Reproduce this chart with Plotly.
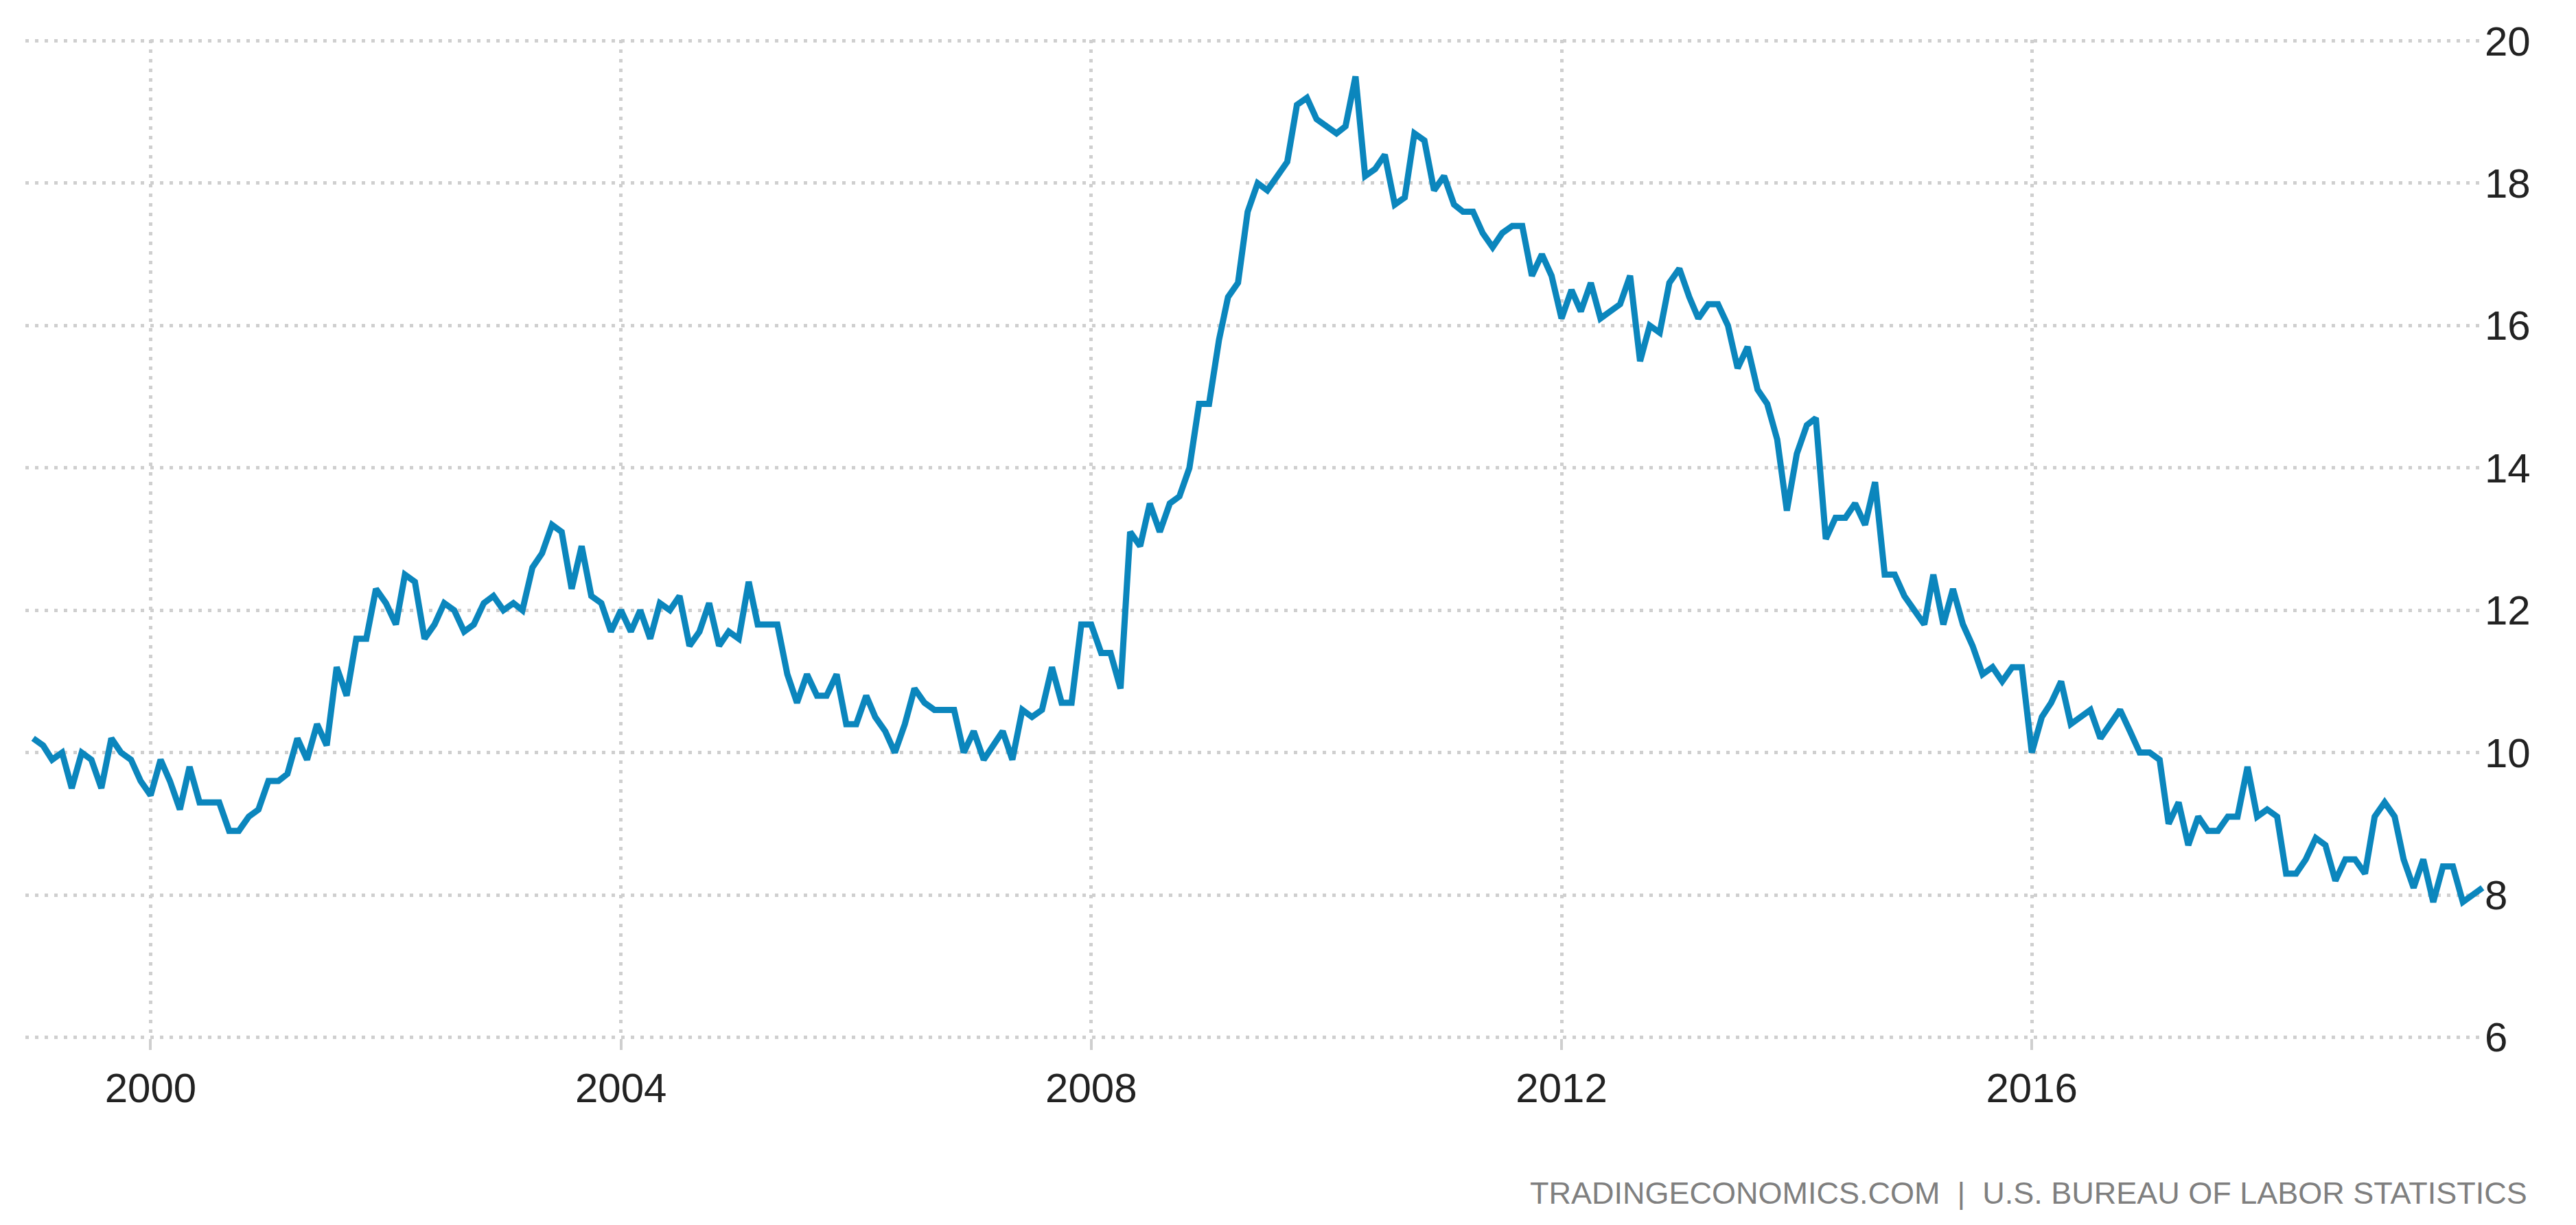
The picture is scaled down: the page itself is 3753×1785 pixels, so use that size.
import pandas as pd
import plotly.graph_objects as go

# monthly values, Jan 1999 .. Nov 2019
rate = [
    10.2, 10.1, 9.9, 10.0, 9.5, 10.0, 9.9, 9.5, 10.2, 10.0, 9.9, 9.6,          # 1999
    9.4, 9.9, 9.6, 9.2, 9.8, 9.3, 9.3, 9.3, 8.9, 8.9, 9.1, 9.2,                # 2000
    9.6, 9.6, 9.7, 10.2, 9.9, 10.4, 10.1, 11.2, 10.8, 11.6, 11.6, 12.3,        # 2001
    12.1, 11.8, 12.5, 12.4, 11.6, 11.8, 12.1, 12.0, 11.7, 11.8, 12.1, 12.2,    # 2002
    12.0, 12.1, 12.0, 12.6, 12.8, 13.2, 13.1, 12.3, 12.9, 12.2, 12.1, 11.7,    # 2003
    12.0, 11.7, 12.0, 11.6, 12.1, 12.0, 12.2, 11.5, 11.7, 12.1, 11.5, 11.7,    # 2004
    11.6, 12.4, 11.8, 11.8, 11.8, 11.1, 10.7, 11.1, 10.8, 10.8, 11.1, 10.4,    # 2005
    10.4, 10.8, 10.5, 10.3, 10.0, 10.4, 10.9, 10.7, 10.6, 10.6, 10.6, 10.0,    # 2006
    10.3, 9.9, 10.1, 10.3, 9.9, 10.6, 10.5, 10.6, 11.2, 10.7, 10.7, 11.8,      # 2007
    11.8, 11.4, 11.4, 10.9, 13.1, 12.9, 13.5, 13.1, 13.5, 13.6, 14.0, 14.9,    # 2008
    14.9, 15.8, 16.4, 16.6, 17.6, 18.0, 17.9, 18.1, 18.3, 19.1, 19.2, 18.9,    # 2009
    18.8, 18.7, 18.8, 19.5, 18.1, 18.2, 18.4, 17.7, 17.8, 18.7, 18.6, 17.9,    # 2010
    18.1, 17.7, 17.6, 17.6, 17.3, 17.1, 17.3, 17.4, 17.4, 16.7, 17.0, 16.7,    # 2011
    16.1, 16.5, 16.2, 16.6, 16.1, 16.2, 16.3, 16.7, 15.5, 16.0, 15.9, 16.6,    # 2012
    16.8, 16.4, 16.1, 16.3, 16.3, 16.0, 15.4, 15.7, 15.1, 14.9, 14.4, 13.4,    # 2013
    14.2, 14.6, 14.7, 13.0, 13.3, 13.3, 13.5, 13.2, 13.8, 12.5, 12.5, 12.2,    # 2014
    12.0, 11.8, 12.5, 11.8, 12.3, 11.8, 11.5, 11.1, 11.2, 11.0, 11.2, 11.2,    # 2015
    10.0, 10.5, 10.7, 11.0, 10.4, 10.5, 10.6, 10.2, 10.4, 10.6, 10.3, 10.0,    # 2016
    10.0, 9.9, 9.0, 9.3, 8.7, 9.1, 8.9, 8.9, 9.1, 9.1, 9.8, 9.1,               # 2017
    9.2, 9.1, 8.3, 8.3, 8.5, 8.8, 8.7, 8.2, 8.5, 8.5, 8.3, 9.1,                # 2018
    9.3, 9.1, 8.5, 8.1, 8.5, 7.9, 8.4, 8.4, 7.9, 8.0, 8.1,                     # 2019
]
dates = pd.date_range("1999-01-01", periods=len(rate), freq="MS")

x_tick_years = ["2000", "2004", "2008", "2012", "2016"]
y_ticks = [6, 8, 10, 12, 14, 16, 18, 20]

grid_color = "#cfcfcf"

fig = go.Figure()

fig.add_trace(go.Scatter(
    x=dates, y=rate, mode="lines",
    line=dict(color="#0b86bd", width=9),
    showlegend=False, hoverinfo="x+y",
))

# source line at the bottom right
fig.add_annotation(
    text="TRADINGECONOMICS.COM  |  U.S. BUREAU OF LABOR STATISTICS",
    xref="paper", yref="paper", x=1.0175, y=-0.155,
    xanchor="right", yanchor="middle", showarrow=False,
    font=dict(family="Liberation Sans", size=45, color="#7f7f7f"),
)

fig.update_layout(
    width=3753, height=1785,
    margin=dict(l=29, r=140, t=50, b=280),
    paper_bgcolor="white", plot_bgcolor="white",
    font=dict(family="Liberation Sans", size=60, color="#222222"),
    xaxis=dict(
        type="date",
        range=["1998-12-08", "2019-11-10"],
        tickvals=[y + "-01-01" for y in x_tick_years],
        ticktext=x_tick_years,
        showgrid=True, gridcolor=grid_color, gridwidth=5, griddash="5px,9px",
        ticks="outside", ticklen=16, tickwidth=4, tickcolor=grid_color,
        ticklabelstandoff=4,
        showline=False, zeroline=False,
    ),
    yaxis=dict(
        # nudged past 6 / 20 so the edge gridlines are still drawn
        range=[5.985, 20.015], side="right",
        tickvals=y_ticks,
        showgrid=True, gridcolor=grid_color, gridwidth=5, griddash="5px,9px",
        ticks="", ticklabelstandoff=-2,
        showline=False, zeroline=False,
    ),
)

fig.write_html("out.html")
